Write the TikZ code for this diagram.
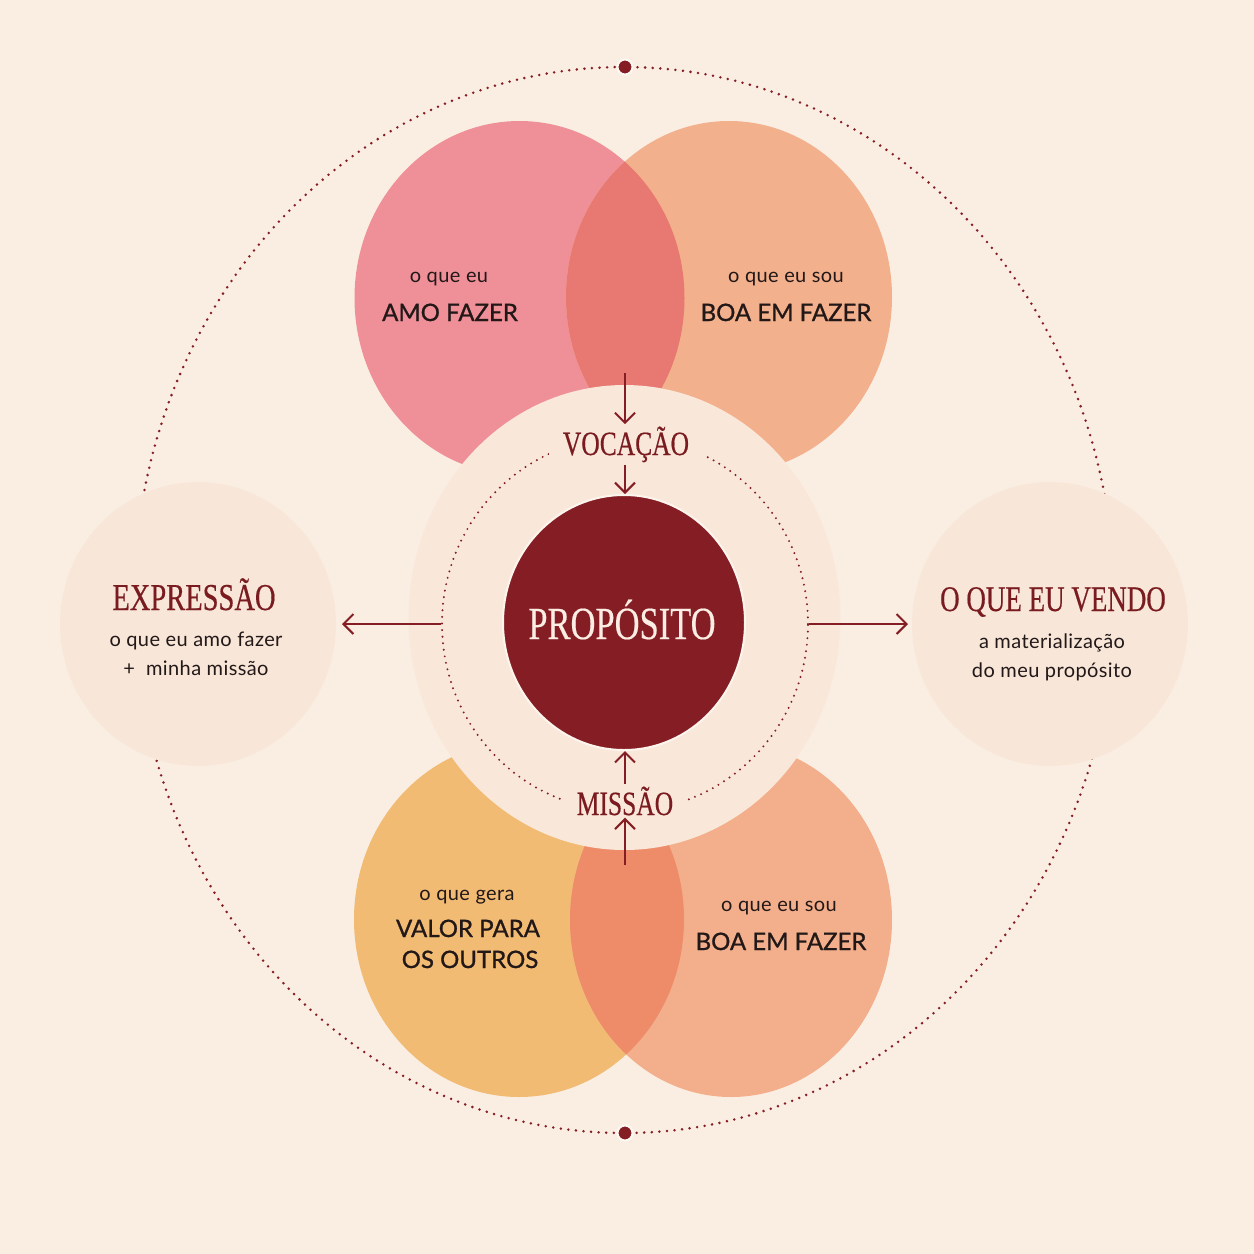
\documentclass[tikz,border=0pt]{standalone}
\usepackage{fontspec}
\usetikzlibrary{arrows.meta,shapes.geometric}
\newfontfamily\sansf[LetterSpace=2]{Lato}
\newfontfamily\sansh[FakeBold=1]{Lato}
\newfontfamily\serifd[FakeStretch=0.75,FakeBold=0.4]{Liberation Serif}
\definecolor{bg}{HTML}{FAEEE3}
\definecolor{midc}{HTML}{F9E8DA}
\definecolor{sidec}{HTML}{F8E7D9}
\definecolor{pinkc}{HTML}{EF9098}
\definecolor{peachc}{HTML}{F3B08C}
\definecolor{topov}{HTML}{E87872}
\definecolor{yellc}{HTML}{F2BB74}
\definecolor{salmc}{HTML}{F3AF8B}
\definecolor{botov}{HTML}{EE8C6A}
\definecolor{dred}{HTML}{851E24}
\definecolor{tred}{HTML}{7A1B20}
\definecolor{ink}{HTML}{221818}
\definecolor{cream}{HTML}{FBEDE3}
\tikzset{
  blob/.style={ellipse, inner sep=0pt, outer sep=0pt, draw=none},
  small/.style={anchor=base, font=\sansf\fontsize{10}{12}\selectfont, text=ink, inner sep=0pt},
  head/.style={anchor=base, font=\sansh\fontsize{12}{14}\selectfont, text=ink, inner sep=0pt},
  sert/.style={anchor=base, text=tred, inner sep=0pt},
  dots/.style={draw=dred, line width=1.4pt, line cap=round, dash pattern=on 0pt off 3.8pt},
  idots/.style={draw=dred, line width=1.1pt, line cap=round, dash pattern=on 0pt off 3.3pt},
  arr/.style={draw=dred, line width=1pt, -{Straight Barb[length=5pt,width=10pt,line width=1pt]}},
  bigdot/.style={circle, fill=dred, minimum size=7.5pt, inner sep=0pt, draw=white!60!bg, line width=1pt}
}
\begin{document}
\begin{tikzpicture}[x=0.5pt,y=-0.5pt]
% background
\fill[bg] (0,0) rectangle (1254,1254);
\useasboundingbox (0,0) rectangle (1254,1254);

% outer dotted ellipse
\draw[dots] (624,600) ellipse [x radius=245pt, y radius=266.5pt];
\node[bigdot] (dtop) at (625,67) {};
\node[bigdot] (dbot) at (625,1133) {};

% side circles
\node[blob, fill=sidec, minimum width=138pt, minimum height=142pt] (expr) at (198,624) {};
\node[blob, fill=sidec, minimum width=138pt, minimum height=142pt] (sell) at (1050,624) {};

% top circles
\node[blob, fill=pinkc, minimum width=165pt, minimum height=177pt] (love) at (519.5,298) {};
\node[blob, fill=peachc, minimum width=163pt, minimum height=176pt] (good) at (729,297) {};
\begin{scope}
  \clip (519.5,298) ellipse [x radius=82.5pt, y radius=88.5pt];
  \fill[topov] (729,297) ellipse [x radius=81.5pt, y radius=88pt];
\end{scope}

% bottom circles
\node[blob, fill=yellc, minimum width=165pt, minimum height=177.6pt] (value) at (519,919.4) {};
\node[blob, fill=salmc, minimum width=161pt, minimum height=177pt] (good2) at (731,920) {};
\begin{scope}
  \clip (519,919.4) ellipse [x radius=82.5pt, y radius=88.8pt];
  \fill[botov] (731,920) ellipse [x radius=80.5pt, y radius=88.5pt];
\end{scope}

% middle ellipse
\node[ellipse, inner sep=0pt, fill=midc, minimum width=216pt, minimum height=232.5pt] (mid) at (624.5,617.5) {};

% inner dotted ring
\node[ellipse, inner sep=0pt, idots, minimum width=183pt, minimum height=187pt] (ring) at (625,624) {};

% purpose
\node[ellipse, inner sep=0pt, fill=dred, draw=white!55!midc, line width=1pt, minimum width=121pt, minimum height=127.5pt] (prop) at (624,622.5) {};
\node[sert, font=\serifd\fontsize{23}{26}\selectfont, text=cream] (proptxt) at (622,639) {PROPÓSITO};

% vocation / mission labels
\node[anchor=base, text=tred, font=\serifd\fontsize{17}{20}\selectfont, fill=midc, inner xsep=7pt, inner ysep=1pt] (voc) at (626,455) {VOCAÇÃO};
\node[anchor=base, text=tred, font=\serifd\fontsize{17}{20}\selectfont, fill=midc, inner xsep=7pt, inner ysep=1pt] (mis) at (625,815) {MISSÃO};

\coordinate (vtop) at (625,373);
\coordinate (mbot) at (625,865);
\draw[arr] (vtop) -- (vtop |- voc.north);
\draw[arr] (vtop |- voc.south) -- (vtop |- prop.north);
\draw[arr] (mbot |- mis.north) -- (mbot |- prop.south);
\draw[arr] (mbot) -- (mbot |- mis.south);
\draw[arr, shorten >=3pt] (ring.west) -- (expr.east);
\draw[arr, shorten >=2pt] (ring.east) -- (sell.west);

% top texts
\node[small] (t1) at (449,282) {o que eu};
\node[head] (t2) at (450,321) {AMO FAZER};
\node[small] (t3) at (786,282) {o que eu sou};
\node[head] (t4) at (786,321) {BOA EM FAZER};

% bottom texts
\node[small] (b1) at (467,900) {o que gera};
\node[head] (b2) at (468,937) {VALOR PARA};
\node[head] (b3) at (470,968) {OS OUTROS};
\node[small] (b4) at (779,911) {o que eu sou};
\node[head] (b5) at (781,950) {BOA EM FAZER};

% side texts
\node[sert, font=\serifd\fontsize{19}{22}\selectfont] (e1) at (194,610) {EXPRESSÃO};
\node[small] (e2) at (196,646) {o que eu amo fazer};
\node[small] (e3) at (196,675) {+\ \ minha missão};
\node[sert, font=\serifd\fontsize{18}{21}\selectfont] (s1) at (1053,611) {O QUE EU VENDO};
\node[small] (s2) at (1052,648) {a materialização};
\node[small] (s3) at (1052,677) {do meu propósito};
\end{tikzpicture}
\end{document}
